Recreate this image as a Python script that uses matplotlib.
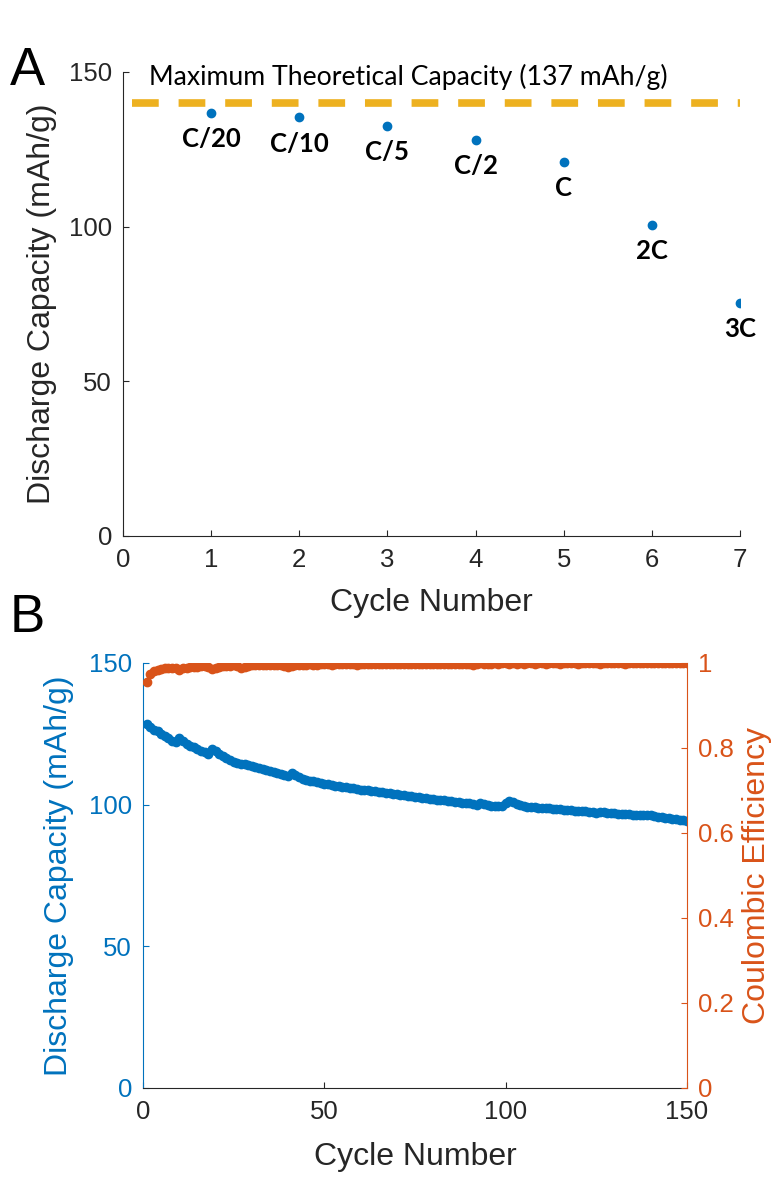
"""
Rate capability (A) and long-term cycling (B) of a cathode half cell.
"""

import matplotlib
matplotlib.use('Agg')
import matplotlib.pyplot as plt

###
# Data

# panel A: one discharge per C-rate
rate_cycle = [1, 2, 3, 4, 5, 6, 7]
rate_capacity = [136.8, 135.4, 132.5, 128.0, 120.9, 100.5, 75.3]  # [mAh/g]
rate_labels = ['C/20', 'C/10', 'C/5', 'C/2', 'C', '2C', '3C']
theoretical_capacity = 140  # drawn line level [mAh/g]
theoretical_text = 'Maximum Theoretical Capacity (137 mAh/g)'

# panel B: 150 cycles
cycle_capacity = [
    128.5, 127.5, 126.5, 125.8, 125.0, 124.2, 123.5, 122.5, 122.0, 123.5,
    122.5, 121.5, 120.8, 120.2, 119.6, 119.0, 118.5, 118.0, 119.5, 119.0,
    117.8, 117.0, 116.3, 115.8, 115.2, 114.8, 114.5, 114.2, 113.9, 113.6,
    113.3, 113.0, 112.7, 112.3, 111.9, 111.5, 111.1, 110.7, 110.3, 110.0,
    111.0, 110.4, 109.7, 109.2, 108.8, 108.5, 108.2, 107.9, 107.6, 107.3,
    107.1, 106.9, 106.7, 106.5, 106.3, 106.1, 105.9, 105.7, 105.5, 105.3,
    105.2, 105.0, 104.8, 104.7, 104.5, 104.3, 104.1, 104.0, 103.8, 103.6,
    103.5, 103.3, 103.1, 102.9, 102.7, 102.6, 102.4, 102.3, 102.1, 102.0,
    101.8, 101.6, 101.5, 101.3, 101.2, 101.0, 100.9, 100.7, 100.6, 100.5,
    100.3, 100.0, 100.4, 100.1, 99.8, 99.6, 99.5, 99.4, 99.6, 100.5,
    101.3, 100.8, 100.2, 99.7, 99.5, 99.3, 99.2, 99.0, 98.9, 98.8,
    98.7, 98.9, 98.6, 98.4, 98.3, 98.2, 98.1, 98.0, 97.9, 97.8,
    97.7, 97.6, 97.5, 97.3, 97.1, 97.3, 97.4, 97.2, 97.0, 96.9,
    96.8, 96.7, 96.7, 96.6, 96.5, 96.5, 96.4, 96.4, 96.3, 96.2,
    96.0, 95.8, 95.6, 95.4, 95.2, 95.0, 94.8, 94.6, 94.4, 94.2,
]
coulombic_eff = [
    0.955, 0.975, 0.980, 0.983, 0.985, 0.987, 0.988, 0.989, 0.988, 0.984,
    0.987, 0.989, 0.990, 0.991, 0.991, 0.992, 0.992, 0.991, 0.986, 0.989,
    0.991, 0.992, 0.993, 0.993, 0.994, 0.993, 0.988, 0.991, 0.993, 0.994,
    0.994, 0.995, 0.995, 0.995, 0.996, 0.995, 0.995, 0.994, 0.993, 0.990,
    0.993, 0.995, 0.996, 0.996, 0.996, 0.997, 0.996, 0.996, 0.997, 0.997,
    0.997, 0.996, 0.997, 0.997, 0.997, 0.998, 0.997, 0.997, 0.996, 0.997,
    0.997, 0.998, 0.997, 0.998, 0.998, 0.997, 0.998, 0.998, 0.997, 0.998,
    0.998, 0.998, 0.997, 0.998, 0.998, 0.998, 0.997, 0.998, 0.998, 0.998,
    0.998, 0.997, 0.998, 0.998, 0.998, 0.998, 0.998, 0.997, 0.998, 0.998,
    0.996, 0.998, 0.999, 0.998, 0.998, 0.998, 0.999, 0.998, 0.999, 1.000,
    0.998, 0.999, 0.998, 0.999, 0.998, 0.999, 0.999, 0.998, 0.999, 0.999,
    0.998, 0.999, 0.999, 0.999, 0.998, 0.999, 0.999, 0.999, 0.999, 0.998,
    0.999, 0.999, 0.999, 0.999, 0.999, 0.998, 0.999, 0.999, 0.999, 0.999,
    0.999, 0.999, 0.998, 0.999, 0.999, 0.999, 0.999, 0.999, 0.999, 0.999,
    0.999, 0.999, 0.999, 0.999, 0.999, 0.999, 0.999, 0.999, 0.999, 1.000,
]
cycles = list(range(1, len(cycle_capacity) + 1))

###
# Style

blue = '#0072BD'
orange = '#D95319'
yellow = '#EDB120'
grey = '#262626'
calibri_like = ['Lato', 'DejaVu Sans']

plt.rcParams['font.family'] = ['Liberation Sans', 'DejaVu Sans']
plt.rcParams['xtick.direction'] = 'in'
plt.rcParams['ytick.direction'] = 'in'

fig = plt.figure(figsize=(7.76, 11.8), dpi=100)

###
# Panel A

axA = fig.add_axes([0.1585, 0.5458, 0.7951, 0.3932])
axA.plot(rate_cycle, rate_capacity, 'o', color=blue, markersize=6)
axA.plot([0.1, 7], [theoretical_capacity, theoretical_capacity], '--',
         color=yellow, linewidth=5.5, dashes=(3.5, 2.6))
for x, y, lab in zip(rate_cycle, rate_capacity, rate_labels):
    axA.annotate(lab, (x, y), xytext=(0, -19), textcoords='offset points',
                 ha='center', va='center', fontsize=18.5, fontweight='bold',
                 family=calibri_like, color='black')
axA.text(0.3, 148.5, theoretical_text, fontsize=19.2,
         family=calibri_like, va='center')
axA.set_xlim(0, 7)
axA.set_ylim(0, 150)
axA.set_xticks(range(0, 8))
axA.set_yticks([0, 50, 100, 150])
axA.spines['top'].set_visible(False)
axA.spines['right'].set_visible(False)
for s in ('left', 'bottom'):
    axA.spines[s].set_color(grey)
axA.tick_params(labelsize=18.5, colors=grey, length=4)
axA.tick_params(axis='x', pad=9)
axA.tick_params(axis='y', pad=8)
axA.set_xlabel('Cycle Number', fontsize=23, color=grey)
axA.set_ylabel('Discharge Capacity (mAh/g)', fontsize=23, color=grey)
axA.xaxis.set_label_coords(0.5, -0.112)
axA.yaxis.set_label_coords(-0.107, 0.5)
fig.text(0.013, 0.94, 'A', fontsize=38, va='center')

###
# Panel B

axB = fig.add_axes([0.1843, 0.0780, 0.7010, 0.3602])
axB.plot(cycles, cycle_capacity, 'o', color=blue, markersize=6)
axB.set_xlim(0, 150)
axB.set_ylim(0, 150)
axB.set_xticks([0, 50, 100, 150])
axB.set_yticks([0, 50, 100, 150])
axB.spines['top'].set_visible(False)
axB.spines['right'].set_visible(False)
axB.spines['left'].set_color(blue)
axB.spines['bottom'].set_color(grey)
axB.tick_params(axis='x', labelsize=18.5, colors=grey, length=4, pad=9)
axB.tick_params(axis='y', labelsize=18.5, colors=blue, length=4, pad=8)
axB.set_xlabel('Cycle Number', fontsize=23, color=grey)
axB.set_ylabel('Discharge Capacity (mAh/g)', fontsize=23, color=blue)
axB.xaxis.set_label_coords(0.5, -0.128)
axB.yaxis.set_label_coords(-0.127, 0.5)

axE = axB.twinx()
axE.plot(cycles, coulombic_eff, 'o', color=orange, markersize=6)
axE.set_ylim(0, 1)
axE.set_yticks([0, 0.2, 0.4, 0.6, 0.8, 1])
axE.set_yticklabels(['0', '0.2', '0.4', '0.6', '0.8', '1'])
for s in ('top', 'left', 'bottom'):
    axE.spines[s].set_visible(False)
axE.spines['right'].set_color(orange)
axE.tick_params(axis='y', labelsize=18.5, colors=orange, length=4, pad=8)
axE.set_ylabel('Coulombic Efficiency', fontsize=23, color=orange)
axE.yaxis.set_label_coords(1.102, 0.5)
fig.text(0.013, 0.476, 'B', fontsize=38, va='center')

plt.savefig('out.png', dpi=100)
